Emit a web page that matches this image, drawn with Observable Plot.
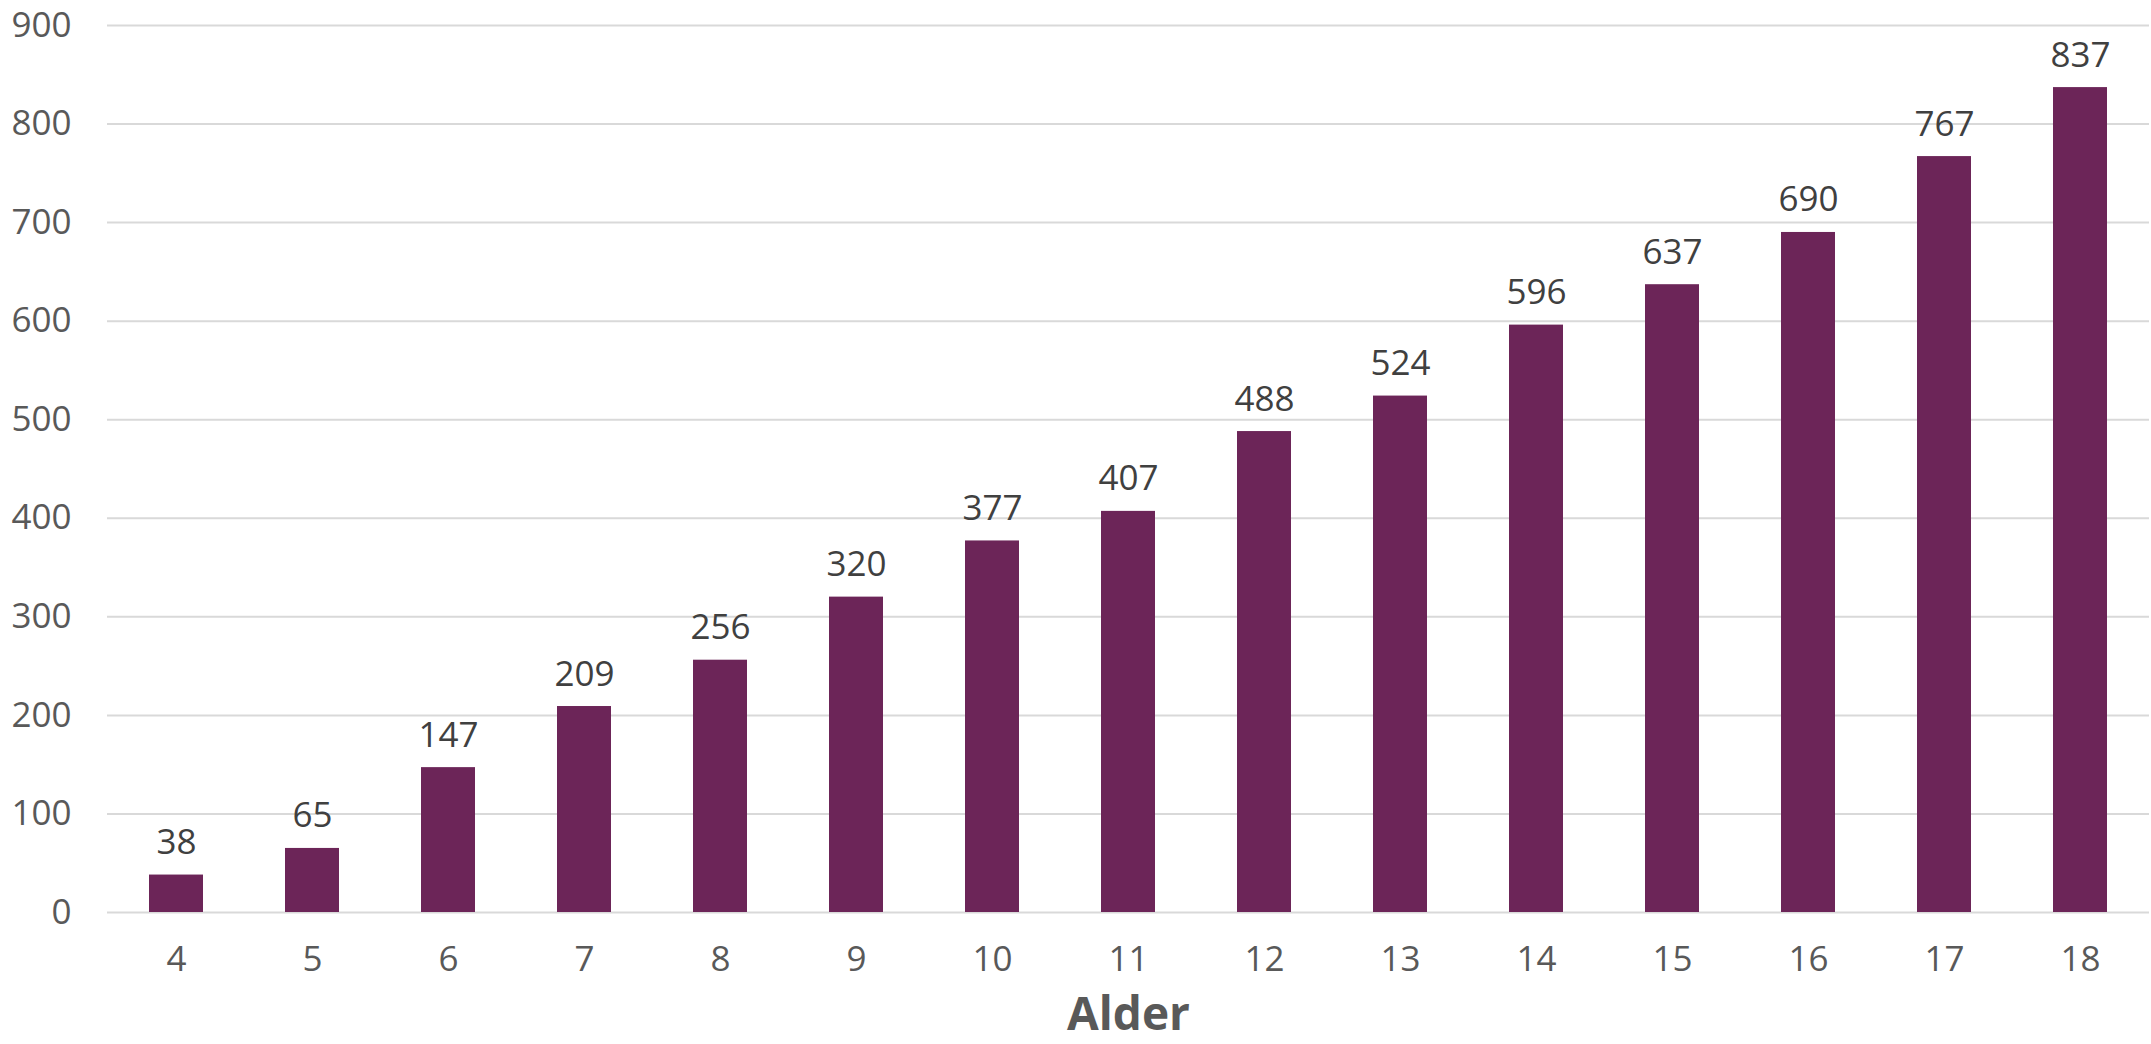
<!DOCTYPE html>
<html>
<head>
<meta charset="utf-8">
<script src="https://cdn.jsdelivr.net/npm/d3@7"></script>
<script src="https://cdn.jsdelivr.net/npm/@observablehq/plot@0.6"></script>
<style>
  html, body { margin: 0; padding: 0; background: #fff; }
  #chart svg { display: block; }
</style>
</head>
<body>
<div id="chart"></div>
<script>
// Number of children per age (Alder)
const ages = [4, 5, 6, 7, 8, 9, 10, 11, 12, 13, 14, 15, 16, 17, 18];
const counts = [38, 65, 147, 209, 256, 320, 377, 407, 488, 524, 596, 637, 690, 767, 837];
const yTicks = [0, 100, 200, 300, 400, 500, 600, 700, 800, 900];
const axisTitle = "Alder";

const rows = ages.map((age, i) => ({age, count: counts[i]}));

const chart = Plot.plot({
  width: 2151,
  height: 1044,
  marginLeft: 107,
  marginRight: 2,
  marginTop: 25,
  marginBottom: 132,
  style: {
    fontFamily: "'Open Sans', sans-serif",
    fontSize: "35px",
    color: "#595959",
    background: "#fff"
  },
  x: {type: "band", domain: ages, paddingInner: 0.6, paddingOuter: 0.3, label: null},
  y: {domain: [0, 900], label: null},
  marks: [
    Plot.gridY(yTicks, {stroke: "#d9d9d9", strokeOpacity: 1, strokeWidth: 2}),
    Plot.axisY(yTicks, {tickSize: 0, tickPadding: 36, label: null}),
    Plot.axisX({tickSize: 0, tickPadding: 34, label: null}),
    Plot.barY(rows, {x: "age", y: "count", fill: "#6C2558"}),
    Plot.text(rows, {
      x: "age", y: "count", text: d => String(d.count),
      lineAnchor: "bottom", dy: -21, fill: "#404040", fontSize: 35
    }),
    Plot.text([axisTitle], {
      frameAnchor: "bottom", lineAnchor: "bottom", dy: 117,
      fontWeight: "bold", fontSize: 46, fill: "#595959"
    })
  ]
});

document.getElementById("chart").appendChild(chart);
</script>
</body>
</html>
